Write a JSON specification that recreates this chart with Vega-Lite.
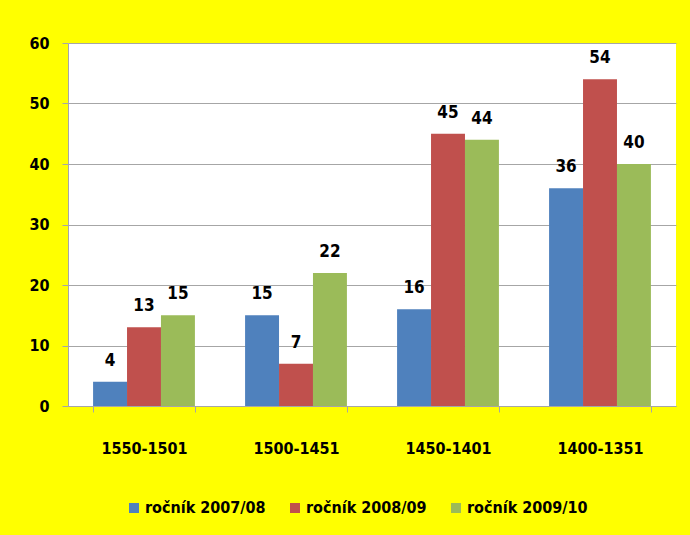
{
  "$schema": "https://vega.github.io/schema/vega-lite/v6.json",
  "width": 608,
  "height": 363,
  "autosize": "none",
  "padding": {"left": 68, "top": 43, "right": 14, "bottom": 129},
  "background": "#FFFF00",
  "config": {
    "font": "'DejaVu Sans Condensed', sans-serif",
    "view": {"fill": "white", "stroke": null}
  },
  "data": {
    "values": [
      {"obdobi": "1550-1501", "rocnik": "ročník 2007/08", "pocet": 4},
      {"obdobi": "1550-1501", "rocnik": "ročník 2008/09", "pocet": 13},
      {"obdobi": "1550-1501", "rocnik": "ročník 2009/10", "pocet": 15},
      {"obdobi": "1500-1451", "rocnik": "ročník 2007/08", "pocet": 15},
      {"obdobi": "1500-1451", "rocnik": "ročník 2008/09", "pocet": 7},
      {"obdobi": "1500-1451", "rocnik": "ročník 2009/10", "pocet": 22},
      {"obdobi": "1450-1401", "rocnik": "ročník 2007/08", "pocet": 16},
      {"obdobi": "1450-1401", "rocnik": "ročník 2008/09", "pocet": 45},
      {"obdobi": "1450-1401", "rocnik": "ročník 2009/10", "pocet": 44},
      {"obdobi": "1400-1351", "rocnik": "ročník 2007/08", "pocet": 36},
      {"obdobi": "1400-1351", "rocnik": "ročník 2008/09", "pocet": 54},
      {"obdobi": "1400-1351", "rocnik": "ročník 2009/10", "pocet": 40}
    ]
  },
  "encoding": {
    "x": {
      "field": "obdobi", "type": "nominal", "sort": null, "title": null,
      "scale": {"paddingInner": 0.33, "paddingOuter": 0.165},
      "axis": {
        "labelAngle": 0, "labelFontSize": 16, "labelFontWeight": "bold", "labelColor": "black",
        "labelPadding": 28, "tickBand": "extent", "tickSize": 6, "tickColor": "#A6A6A6",
        "domainColor": "#A6A6A6", "grid": false
      }
    },
    "xOffset": {"field": "rocnik", "type": "nominal"},
    "y": {
      "field": "pocet", "type": "quantitative", "title": null,
      "scale": {"domain": [0, 60]},
      "axis": {
        "values": [0, 10, 20, 30, 40, 50, 60], "labelFontSize": 16, "labelFontWeight": "bold",
        "labelColor": "black", "labelPadding": 13, "tickSize": 6, "tickColor": "#A6A6A6",
        "domainColor": "#A6A6A6", "gridColor": "#A6A6A6", "gridOpacity": 1
      }
    }
  },
  "layer": [
    {
      "mark": {"type": "bar"},
      "encoding": {
        "color": {
          "field": "rocnik", "type": "nominal", "title": null,
          "scale": {"range": ["#4F81BD", "#C0504D", "#9BBB59"]},
          "legend": {
            "orient": "none", "direction": "horizontal", "legendX": 58, "legendY": 457,
            "symbolType": "square", "symbolSize": 100, "symbolStrokeWidth": 0,
            "labelFontSize": 16, "labelFontWeight": "bold", "labelColor": "black",
            "columnPadding": 21, "labelOffset": 3
          }
        }
      }
    },
    {
      "mark": {"type": "text", "baseline": "middle", "dy": -21, "fontSize": 17, "fontWeight": "bold", "color": "black"},
      "encoding": {"text": {"field": "pocet", "type": "quantitative"}}
    }
  ]
}
